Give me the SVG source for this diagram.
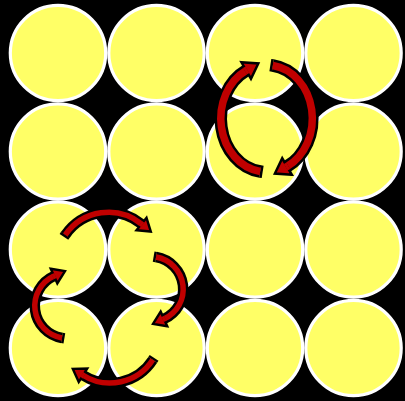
<svg xmlns="http://www.w3.org/2000/svg" width="405" height="401" viewBox="0 0 405 401">
<style>
.cell circle { fill:#FFFF66; stroke:#FFFFFF; stroke-width:3.2; }
.ob { fill:none; stroke:#000000; stroke-width:12.5; }
.rb { fill:none; stroke:#C00000; stroke-width:7.5; }
.os { fill:none; stroke:#000000; stroke-width:10.5; }
.rs { fill:none; stroke:#C00000; stroke-width:5.5; }
</style>
<defs>
<marker id="hb" markerUnits="userSpaceOnUse" orient="auto" markerWidth="60" markerHeight="60" viewBox="-30 -30 60 60" refX="0" refY="0" overflow="visible">
<polygon points="0,-9.5 14,0 0,9.5" fill="#C00000" stroke="#000000" stroke-width="2.5" stroke-linejoin="miter"/>
<rect x="-1.5" y="-3.75" width="3" height="7.5" fill="#C00000"/>
</marker>
<marker id="tb" markerUnits="userSpaceOnUse" orient="auto" markerWidth="60" markerHeight="60" viewBox="-30 -30 60 60" refX="0" refY="0" overflow="visible">
<rect x="-2.5" y="-6.25" width="2.6" height="12.5" fill="#000000"/>
</marker>
<marker id="hs" markerUnits="userSpaceOnUse" orient="auto" markerWidth="60" markerHeight="60" viewBox="-30 -30 60 60" refX="0" refY="0" overflow="visible">
<polygon points="0,-8 12,0 0,8" fill="#C00000" stroke="#000000" stroke-width="2.4" stroke-linejoin="miter"/>
<rect x="-1.5" y="-2.75" width="3" height="5.5" fill="#C00000"/>
</marker>
<marker id="ts" markerUnits="userSpaceOnUse" orient="auto" markerWidth="60" markerHeight="60" viewBox="-30 -30 60 60" refX="0" refY="0" overflow="visible">
<rect x="-2.4" y="-5.25" width="2.5" height="10.5" fill="#000000"/>
</marker>
</defs>
<rect x="0" y="0" width="405" height="401" fill="#000000"/>
<g id="nodes">
<g id="c11" class="cell"><circle cx="58" cy="53" r="47.7"/></g>
<g id="c12" class="cell"><circle cx="156.5" cy="53" r="47.7"/></g>
<g id="c13" class="cell"><circle cx="255" cy="53" r="47.7"/></g>
<g id="c14" class="cell"><circle cx="353.5" cy="53" r="47.7"/></g>
<g id="c21" class="cell"><circle cx="58" cy="151.5" r="47.7"/></g>
<g id="c22" class="cell"><circle cx="156.5" cy="151.5" r="47.7"/></g>
<g id="c23" class="cell"><circle cx="255" cy="151.5" r="47.7"/></g>
<g id="c24" class="cell"><circle cx="353.5" cy="151.5" r="47.7"/></g>
<g id="c31" class="cell"><circle cx="58" cy="249.5" r="47.7"/></g>
<g id="c32" class="cell"><circle cx="156.5" cy="249.5" r="47.7"/></g>
<g id="c33" class="cell"><circle cx="255" cy="249.5" r="47.7"/></g>
<g id="c34" class="cell"><circle cx="353.5" cy="249.5" r="47.7"/></g>
<g id="c41" class="cell"><circle cx="58" cy="348" r="47.7"/></g>
<g id="c42" class="cell"><circle cx="156.5" cy="348" r="47.7"/></g>
<g id="c43" class="cell"><circle cx="255" cy="348" r="47.7"/></g>
<g id="c44" class="cell"><circle cx="353.5" cy="348" r="47.7"/></g>
</g>
<g id="connectors">
<g id="swap-left">
<path class="ob" marker-start="url(#tb)" d="M 260.2 171.5 A 45.5 53.5 0 0 1 246.2 70.5"/>
<path class="rb" marker-end="url(#hb)" d="M 260.2 171.5 A 45.5 53.5 0 0 1 246.2 70.5"/>
</g>
<g id="swap-right">
<path class="ob" marker-start="url(#tb)" d="M 272.8 65.5 A 45.5 53.5 0 0 1 287 166.5"/>
<path class="rb" marker-end="url(#hb)" d="M 272.8 65.5 A 45.5 53.5 0 0 1 287 166.5"/>
</g>
<g id="cycle-top">
<path class="os" marker-start="url(#ts)" d="M 65.3 234.9 A 52.5 52.5 0 0 1 141.5 224.0"/>
<path class="rs" marker-end="url(#hs)" d="M 65.3 234.9 A 52.5 52.5 0 0 1 141.5 224.0"/>
</g>
<g id="cycle-right">
<path class="os" marker-start="url(#ts)" d="M 156 257.05 A 32.6 32.6 0 0 1 163.96 318.94"/>
<path class="rs" marker-end="url(#hs)" d="M 156 257.05 A 32.6 32.6 0 0 1 163.96 318.94"/>
</g>
<g id="cycle-bottom">
<path class="os" marker-start="url(#ts)" d="M 152.77 359.78 A 51 51 0 0 1 83.0 375.25"/>
<path class="rs" marker-end="url(#hs)" d="M 152.77 359.78 A 51 51 0 0 1 83.0 375.25"/>
</g>
<g id="cycle-left">
<path class="os" marker-start="url(#ts)" d="M 62 337.95 A 32.6 32.6 0 0 1 54.04 276.06"/>
<path class="rs" marker-end="url(#hs)" d="M 62 337.95 A 32.6 32.6 0 0 1 54.04 276.06"/>
</g>
</g>
</svg>
